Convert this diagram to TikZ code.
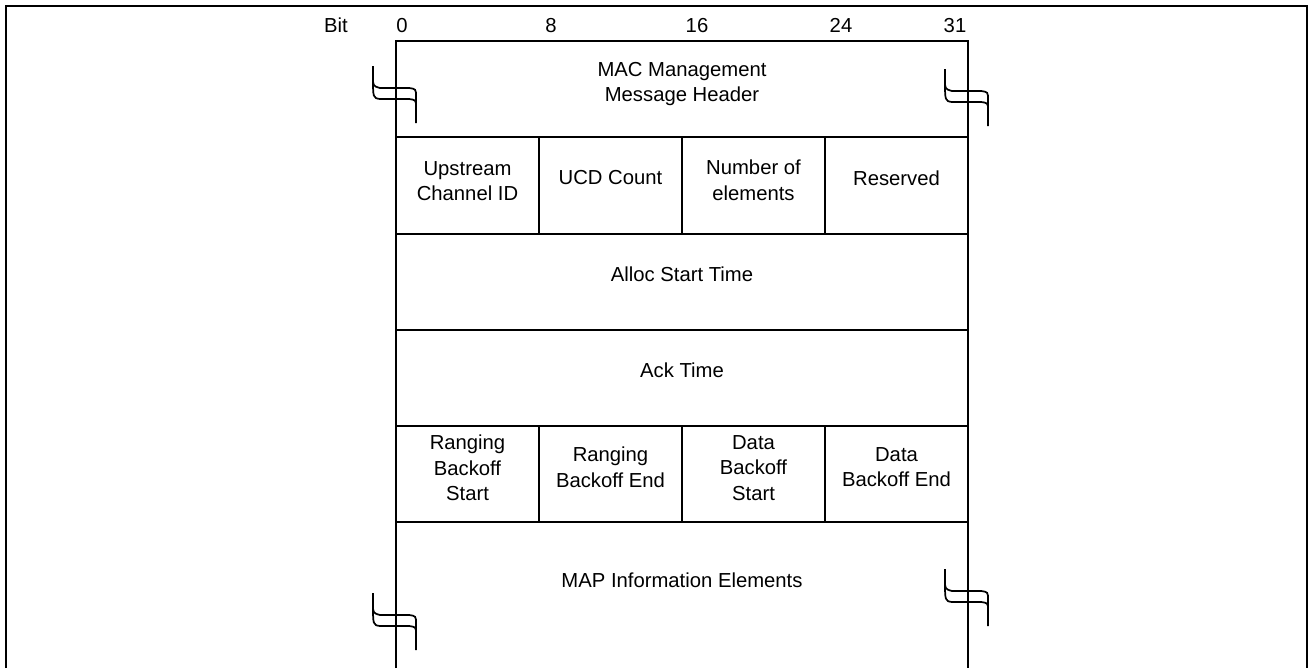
\documentclass[tikz,border=0pt]{standalone}
\usepackage{fontspec}
\setmainfont{Liberation Sans}
\usetikzlibrary{calc}
\newcommand{\fieldfont}{\fontsize{15.2}{19.3}\selectfont}
\tikzset{
  brkmark/.pic={
    \draw[line width=1.3pt] (-23,-28) -- (-23,-17) .. controls (-23,-8) .. (-16,-6) -- (13,-6)
          .. controls (20,-5) .. (20,3) -- (20,29);
    \draw[line width=1.3pt] (-23,-17) .. controls (-23,4) .. (-16,5) -- (13,5)
          .. controls (20,6) .. (20,13);
  },
}

\begin{document}
\begin{tikzpicture}[
  x=0.75pt, y=-0.75pt,
  rule/.style={line width=1.4pt},
  field/.style={align=center, inner sep=0pt, font=\fieldfont},
  bitlbl/.style={inner sep=0pt, anchor=base, font=\fieldfont}
]
\useasboundingbox (0,0) rectangle (1309,668);
% outer frame
\draw[rule] (6,668) -- (6,6) -- (1307,6) -- (1307,668);

% bit ruler
\node[bitlbl] (bit) at (336,32) {Bit};
\node[bitlbl] (b0) at (402,32) {0};
\node[bitlbl] (b8) at (551,32) {8};
\node[bitlbl] (b16) at (697,32) {16};
\node[bitlbl] (b24) at (841,32) {24};
\node[bitlbl] (b31) at (955,32) {31};

% table rules
\draw[rule] (396,668) -- (396,41) -- (968,41) -- (968,668);
\draw[rule] (396,137) -- (968,137);
\draw[rule] (396,234) -- (968,234);
\draw[rule] (396,330) -- (968,330);
\draw[rule] (396,426) -- (968,426);
\draw[rule] (396,522) -- (968,522);
\draw[rule] (539,137) -- (539,234);
\draw[rule] (682,137) -- (682,234);
\draw[rule] (825,137) -- (825,234);
\draw[rule] (539,426) -- (539,522);
\draw[rule] (682,426) -- (682,522);
\draw[rule] (825,426) -- (825,522);

% fields
\node[field] (hdr) at (682,84) {MAC Management\\Message Header};
\node[field] (chid) at (467.5,181) {Upstream\\Channel ID};
\node[field] (ucd) at (610.5,178) {UCD Count};
\node[field] (nelem) at (753.5,180) {Number of\\elements};
\node[field] (resv) at (896.5,178) {Reserved};
\node[field] (alloc) at (682,274) {Alloc Start Time};
\node[field] (ack) at (682,370) {Ack Time};
\node[field] (rbs) at (467.5,468) {Ranging\\Backoff\\Start};
\node[field] (rbe) at (610.5,467) {Ranging\\Backoff End};
\node[field] (dbs) at (753.5,468) {Data\\Backoff\\Start};
\node[field] (dbe) at (896.5,467) {Data\\Backoff End};
\node[field] (mapie) at (682,580) {MAP Information Elements};

% break marks
\pic at (396,94) {brkmark};
\pic at (968,97) {brkmark};
\pic at (396,621) {brkmark};
\pic at (968,597) {brkmark};
\end{tikzpicture}
\end{document}
